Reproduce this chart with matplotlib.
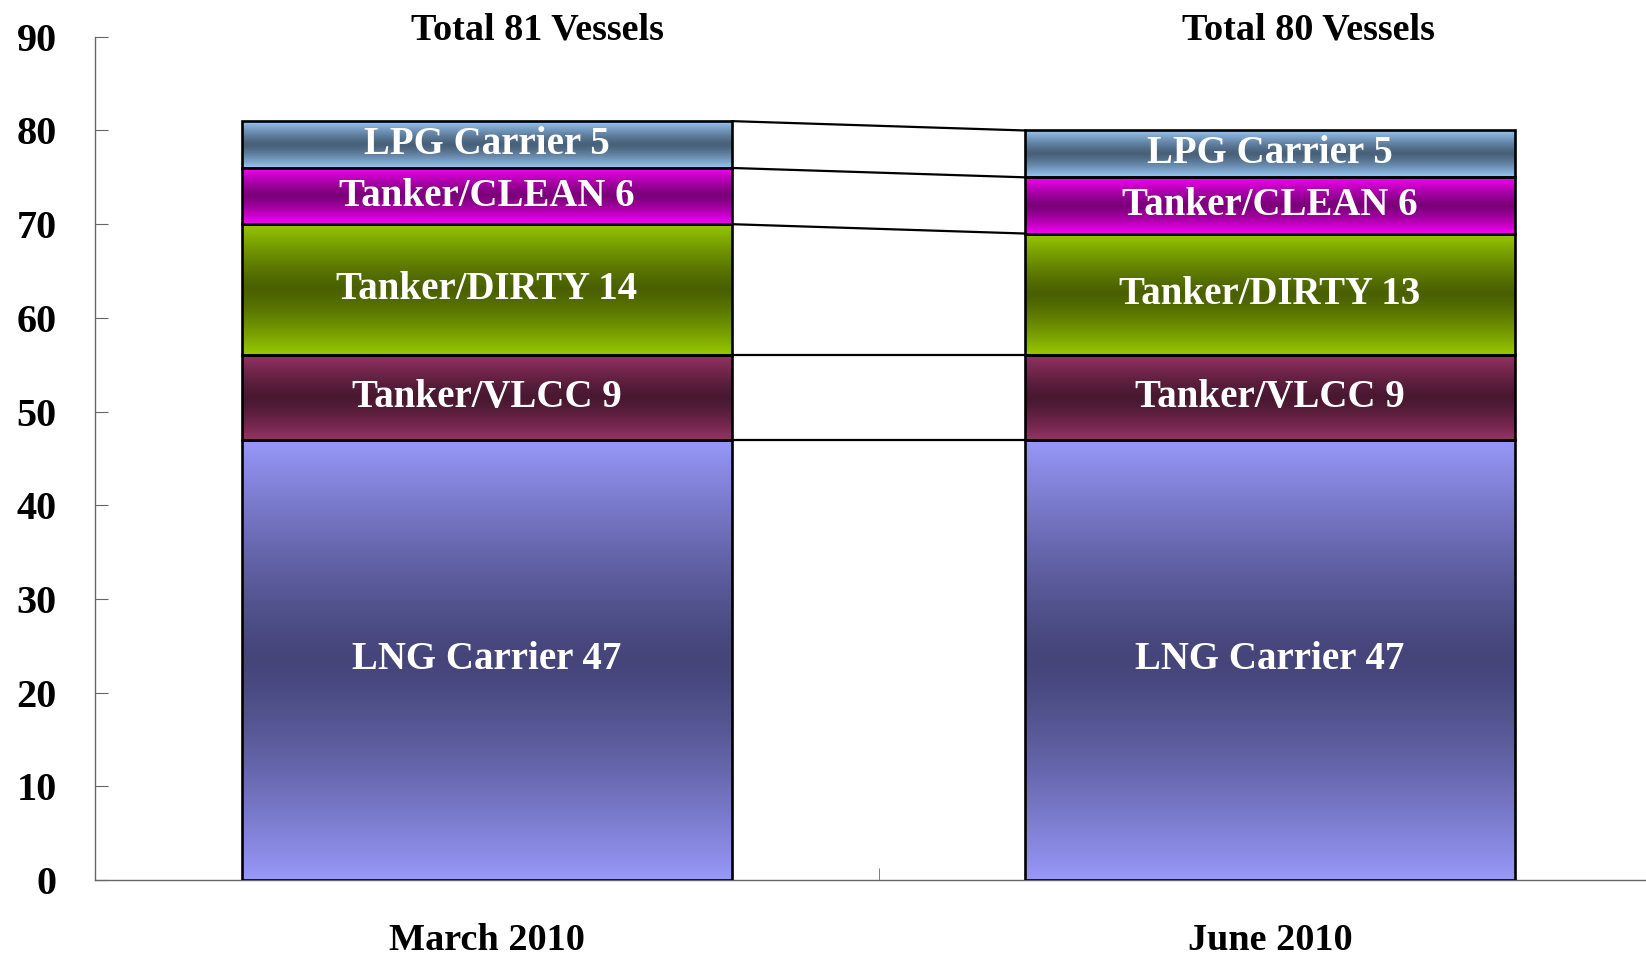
import numpy as np
import matplotlib
matplotlib.use("Agg")
import matplotlib.pyplot as plt
from matplotlib.colors import to_rgb
from matplotlib.transforms import ScaledTranslation

# data
periods = ["March 2010", "June 2010"]
totals = ["Total 81 Vessels", "Total 80 Vessels"]
segments = ["LNG Carrier", "Tanker/VLCC", "Tanker/DIRTY", "Tanker/CLEAN", "LPG Carrier"]
march = [47, 9, 14, 6, 5]
june = [47, 9, 13, 6, 5]

# gradient colours: (edge, middle)
light = ["#9898fa", "#963264", "#98ca00", "#fa00fa", "#98c8f8"]
dark = ["#45457a", "#481830", "#4a6000", "#7a0078", "#486078"]

plt.rcParams['font.family'] = ['Liberation Serif', 'DejaVu Serif']
plt.rcParams['font.weight'] = 'bold'

fig = plt.figure(figsize=(16.46, 9.56), dpi=100)
ax = fig.add_axes([0.058, 0.0795, 0.9515, 0.882])

width = 0.625
x = np.arange(len(periods))
vals = np.array([march, june])
bottoms = np.zeros(len(periods))

def gradient_img(c_edge, c_mid, n=256):
    t = np.linspace(0, 1, n)
    f = np.abs(2 * t - 1) ** 1.3
    e = np.array(to_rgb(c_edge))
    m = np.array(to_rgb(c_mid))
    img = m[None, :] + (e - m)[None, :] * f[:, None]
    return img[:, None, :]

for k, name in enumerate(segments):
    h = vals[:, k]
    bars = ax.bar(x, h, width, bottom=bottoms, facecolor='none',
                  edgecolor='black', linewidth=1.9, zorder=3)
    for i, b in enumerate(bars):
        x0, y0 = b.get_x(), b.get_y()
        ax.imshow(gradient_img(light[k], dark[k]), aspect='auto',
                  extent=(x0, x0 + b.get_width(), y0, y0 + b.get_height()),
                  origin='lower', zorder=2, interpolation='bilinear')
        ax.text(b.get_x() + b.get_width() / 2, y0 + b.get_height() / 2,
                f"{name} {h[i]}", ha='center', va='center', color='white',
                fontsize=28, fontweight='bold', zorder=4)
    bottoms = bottoms + h

# connector lines between stacks
cum = np.cumsum(vals, axis=1)
for k in range(len(segments)):
    ax.plot([x[0] + width / 2, x[1] - width / 2], [cum[0, k], cum[1, k]],
            color='black', linewidth=1.6, zorder=3)

# total labels, nudged right like the original
nudge = [0.065, 0.049]
for i, t in enumerate(totals):
    ax.text(x[i] + nudge[i], 90.7, t, ha='center', va='center', fontsize=27.5,
            fontweight='bold', clip_on=False)

ax.set_xlim(-0.5, 1.5)
ax.set_ylim(0, 90)
ax.set_yticks(range(0, 91, 10))
ax.set_xticks(x)
ax.set_xticklabels(periods, fontsize=27.5, fontweight='bold')
shift = ScaledTranslation(0.06, 0, fig.dpi_scale_trans)
for lab in ax.get_xticklabels():
    lab.set_transform(lab.get_transform() + shift)
ax.set_xticks([0.5], minor=True)
ax.tick_params(axis='x', which='major', length=0, pad=31)
ax.tick_params(axis='x', which='minor', direction='in', length=9, color='#666666')
ax.tick_params(axis='y', direction='in', length=9, pad=28, labelsize=29,
               color='#666666')
for lab in ax.get_yticklabels():
    lab.set_fontweight('bold')
for s in ['top', 'right']:
    ax.spines[s].set_visible(False)
for s in ['left', 'bottom']:
    ax.spines[s].set_color('#666666')
    ax.spines[s].set_linewidth(1.0)

fig.savefig("out.png", dpi=100)
